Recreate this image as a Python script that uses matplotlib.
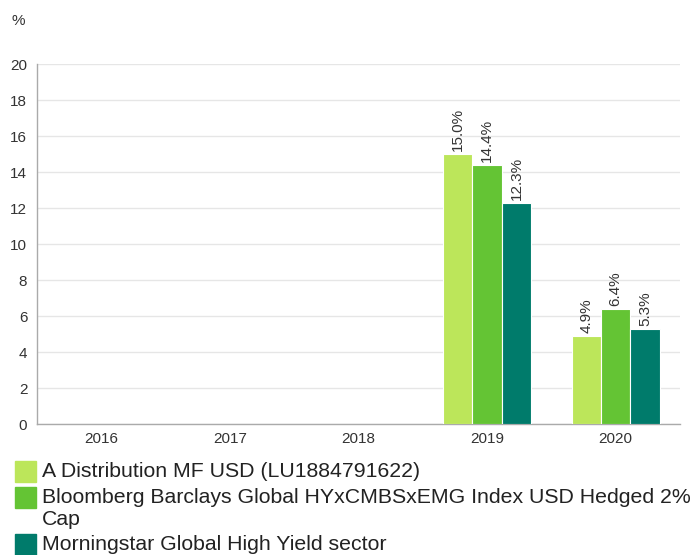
import matplotlib
matplotlib.use("Agg")
import matplotlib.pyplot as plt
import numpy as np
from matplotlib.patches import Rectangle

plt.rcParams['font.family'] = ['Liberation Sans', 'DejaVu Sans']

years = ['2016', '2017', '2018', '2019', '2020']
fund = [np.nan, np.nan, np.nan, 15.0, 4.9]
index_bm = [np.nan, np.nan, np.nan, 14.4, 6.4]
sector = [np.nan, np.nan, np.nan, 12.3, 5.3]
series_names = ['A Distribution MF USD (LU1884791622)',
                'Bloomberg Barclays Global HYxCMBSxEMG Index USD Hedged 2%\nCap',
                'Morningstar Global High Yield sector']
colors = ['#bce65a', '#64c434', '#007b6b']

W, H = 696, 555
fig = plt.figure(figsize=(W / 100, H / 100), dpi=100)
ax = fig.add_axes([37 / W, 1 - 424 / H, (680 - 37) / W, (424 - 64) / H])

x = np.arange(len(years))
bw = 0.228
txt = '#333333'
for i, (vals, c) in enumerate(zip([fund, index_bm, sector], colors)):
    pos = x + (i - 1) * bw
    ax.bar(pos, vals, width=bw, color=c, edgecolor='white', linewidth=0.8, zorder=3)
    for p, v in zip(pos, vals):
        if not np.isnan(v):
            ax.annotate(f'{v:.1f}%', (p, v), xytext=(0, 2), textcoords='offset points',
                        rotation=90, ha='center', va='bottom', fontsize=11, color=txt)

ax.set_xlim(-0.5, 4.5)
ax.set_ylim(0, 20)
ax.set_yticks(range(0, 21, 2))
ax.set_xticks(x)
ax.set_xticklabels(years)
ax.tick_params(axis='both', length=0, labelsize=11, labelcolor=txt)
ax.tick_params(axis='y', pad=7)
ax.tick_params(axis='x', pad=6)
ax.grid(axis='y', color='#e6e6e6', linewidth=1, zorder=0)
for s in ['top', 'right']:
    ax.spines[s].set_visible(False)
for s in ['left', 'bottom']:
    ax.spines[s].set_color('#aaaaaa')
    ax.spines[s].set_linewidth(1)

fig.text(12 / W, 1 - 14 / H, '%', fontsize=11, color=txt, va='top', ha='left')

# legend drawn by hand under the plot
tops = [461, 487, 534]
for name, c, t in zip(series_names, colors, tops):
    fig.add_artist(Rectangle((15 / W, 1 - (t + 21) / H), 21 / W, 21 / H,
                             transform=fig.transFigure, color=c))
    fig.text(42 / W, 1 - (t + 1) / H, name, fontsize=15.3, color='#222222',
             va='top', ha='left', linespacing=1.2)

fig.savefig('out.png', dpi=100)
